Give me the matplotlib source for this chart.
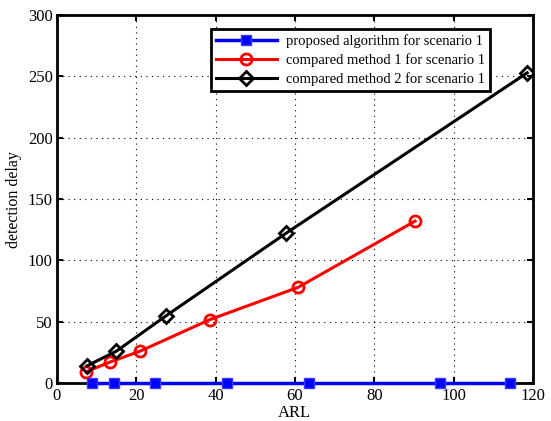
import matplotlib
matplotlib.use("Agg")
from matplotlib import pyplot as plt

plt.rcParams["font.family"] = ["Liberation Serif", "DejaVu Serif"]

# proposed algorithm for scenario 1
arl_proposed = [8.9, 14.5, 24.6, 42.8, 63.5, 96.5, 114.2]
delay_proposed = [0, 0, 0, 0, 0, 0, 0]

# compared method 1 for scenario 1
arl_method1 = [7.3, 13.3, 21.0, 38.5, 60.8, 90.3]
delay_method1 = [9, 17, 26, 51.6, 78, 132]

# compared method 2 for scenario 1
arl_method2 = [7.6, 15.0, 27.6, 57.7, 118.6]
delay_method2 = [14, 26, 55, 122, 253]

fig = plt.figure(figsize=(5.51, 4.21), dpi=100)
ax = fig.add_axes([0.1034, 0.0903, 0.8636, 0.8737])

ax.plot(arl_proposed, delay_proposed, color="#0000ff", lw=2.5, marker="s",
        markersize=7, markerfacecolor="#0000ff", markeredgecolor="#3a3aff",
        label="proposed algorithm for scenario 1", zorder=4, clip_on=False)
ax.plot(arl_method1, delay_method1, color="#ff0000", lw=2.2, marker="o",
        markersize=8, markerfacecolor="none", markeredgewidth=2,
        label="compared method 1 for scenario 1")
ax.plot(arl_method2, delay_method2, color="black", lw=2.2, marker="D",
        markersize=7, markerfacecolor="none", markeredgewidth=2,
        label="compared method 2 for scenario 1")

ax.set_xlim(0, 120)
ax.set_ylim(0, 300)
ax.set_xticks(range(0, 121, 20))
ax.set_yticks(range(0, 301, 50))
ax.grid(True, linestyle=(0, (1, 4)), color="black", linewidth=0.8)
ax.tick_params(direction="in", length=4, width=1.5, labelsize=12,
               top=True, right=True)
ax.tick_params(axis="y", pad=3)
for s in ax.spines.values():
    s.set_linewidth(2)

ax.set_xlabel("ARL", fontsize=12, labelpad=1)
ax.set_ylabel("detection delay", fontsize=11.5, labelpad=4)

leg = ax.legend(loc="upper right", bbox_to_anchor=(0.925, 0.982), fontsize=10.5,
                fancybox=False, framealpha=1, edgecolor="black",
                handlelength=4.2, borderpad=0.35, labelspacing=0.35,
                handletextpad=0.6)
leg.get_frame().set_linewidth(2)

fig.savefig("out.png", dpi=100)
